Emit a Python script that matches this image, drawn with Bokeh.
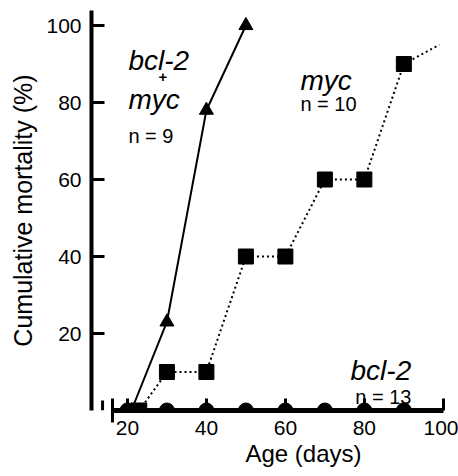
from bokeh.plotting import figure
from bokeh.models import Label, FixedTicker, Range1d, Title
from bokeh.embed import file_html
from bokeh.resources import INLINE

# ---- data ----
both_days = [21, 30, 40, 50]
both_mort = [0, 23, 78, 100]

myc_days = [23, 30, 40, 50, 60, 70, 80, 90]
myc_mort = [0, 10, 10, 40, 40, 60, 60, 90]
myc_ext_days = [90, 99]
myc_ext_mort = [90, 95]

bcl2_days = [20, 30, 40, 50, 60, 70, 80, 90]
bcl2_mort = [0, 0, 0, 0, 0, 0, 0, 0]

x_ticks = [20, 40, 60, 80, 100]
y_ticks = [20, 40, 60, 80, 100]
x_break = 16.3

FONT = "Liberation Sans"

p = figure(width=458, height=476,
           x_range=Range1d(10.9, 100.8), y_range=Range1d(0, 103.9),
           output_backend="svg", toolbar_location=None,
           min_border_left=91, min_border_right=12,
           min_border_top=10, min_border_bottom=66)
p.outline_line_color = None
p.grid.visible = False
p.background_fill_color = "white"

# axes
xa = p.xaxis[0]
xa.ticker = FixedTicker(ticks=x_ticks, minor_ticks=[x_break])
xa.bounds = (x_break, 100)
xa.axis_line_width = 5
xa.major_tick_in = 12
xa.major_tick_out = 0
xa.major_tick_line_width = 3
xa.minor_tick_in = 12
xa.minor_tick_out = 12
xa.minor_tick_line_width = 3
xa.major_label_standoff = -2
xa.major_label_text_font = FONT
xa.major_label_text_font_size = "21px"
xa.major_label_text_color = "black"

ya = p.yaxis[0]
ya.ticker = FixedTicker(ticks=y_ticks)
ya.axis_line_width = 4
ya.major_tick_in = 13
ya.major_tick_out = 0
ya.major_tick_line_width = 3
ya.minor_tick_line_color = None
ya.major_label_standoff = 10
ya.major_label_text_font = FONT
ya.major_label_text_font_size = "21px"
ya.major_label_text_color = "black"
ya.axis_label = "Cumulative mortality (%)"
ya.axis_label_text_font = FONT
ya.axis_label_text_font_size = "25px"
ya.axis_label_text_font_style = "normal"
ya.axis_label_text_color = "black"
ya.axis_label_standoff = 6

p.add_layout(Title(text="Age (days)", align="left", offset=154, standoff=0,
                   text_font=FONT, text_font_size="24px",
                   text_font_style="normal", text_color="black"), "below")

# left break bar (part inside the frame)
p.segment(x0=[13.7], y0=[0], x1=[13.7], y1=[2.6], line_color="black", line_width=3)

# series
p.line(bcl2_days, bcl2_mort, line_color="black", line_width=4)
p.scatter(bcl2_days, bcl2_mort, marker="circle", size=15, color="black")

p.line(myc_days, myc_mort, line_color="black", line_width=2, line_dash="2 3")
p.line(myc_ext_days, myc_ext_mort, line_color="black", line_width=2, line_dash="2 3")
p.scatter(myc_days, myc_mort, marker="square", size=15, color="black")

p.line(both_days, both_mort, line_color="black", line_width=2)
p.scatter(both_days, both_mort, marker="triangle", size=14, color="black")

# annotations
def lab(x, y, t, size, style="normal", align="left", base="alphabetic"):
    p.add_layout(Label(x=x, y=y, text=t, text_font=FONT, text_font_size=size,
                       text_font_style=style, text_align=align,
                       text_baseline=base, text_color="black"))

lab(20.25, 90.9, "bcl-2", "28px", "italic")
lab(29.0, 86.5, "+", "15px", "bold", "center", "middle")
lab(20.25, 80.8, "myc", "28px", "italic")
lab(20.25, 71.4, "n = 9", "20px")
lab(63.8, 85.7, "myc", "28px", "italic")
lab(63.8, 79.7, "n = 10", "20px")
lab(76.5, 10.4, "bcl-2", "28px", "italic")
lab(77.7, 3.4, "n = 13", "20px")

open("out.html", "w").write(file_html(p, INLINE))
